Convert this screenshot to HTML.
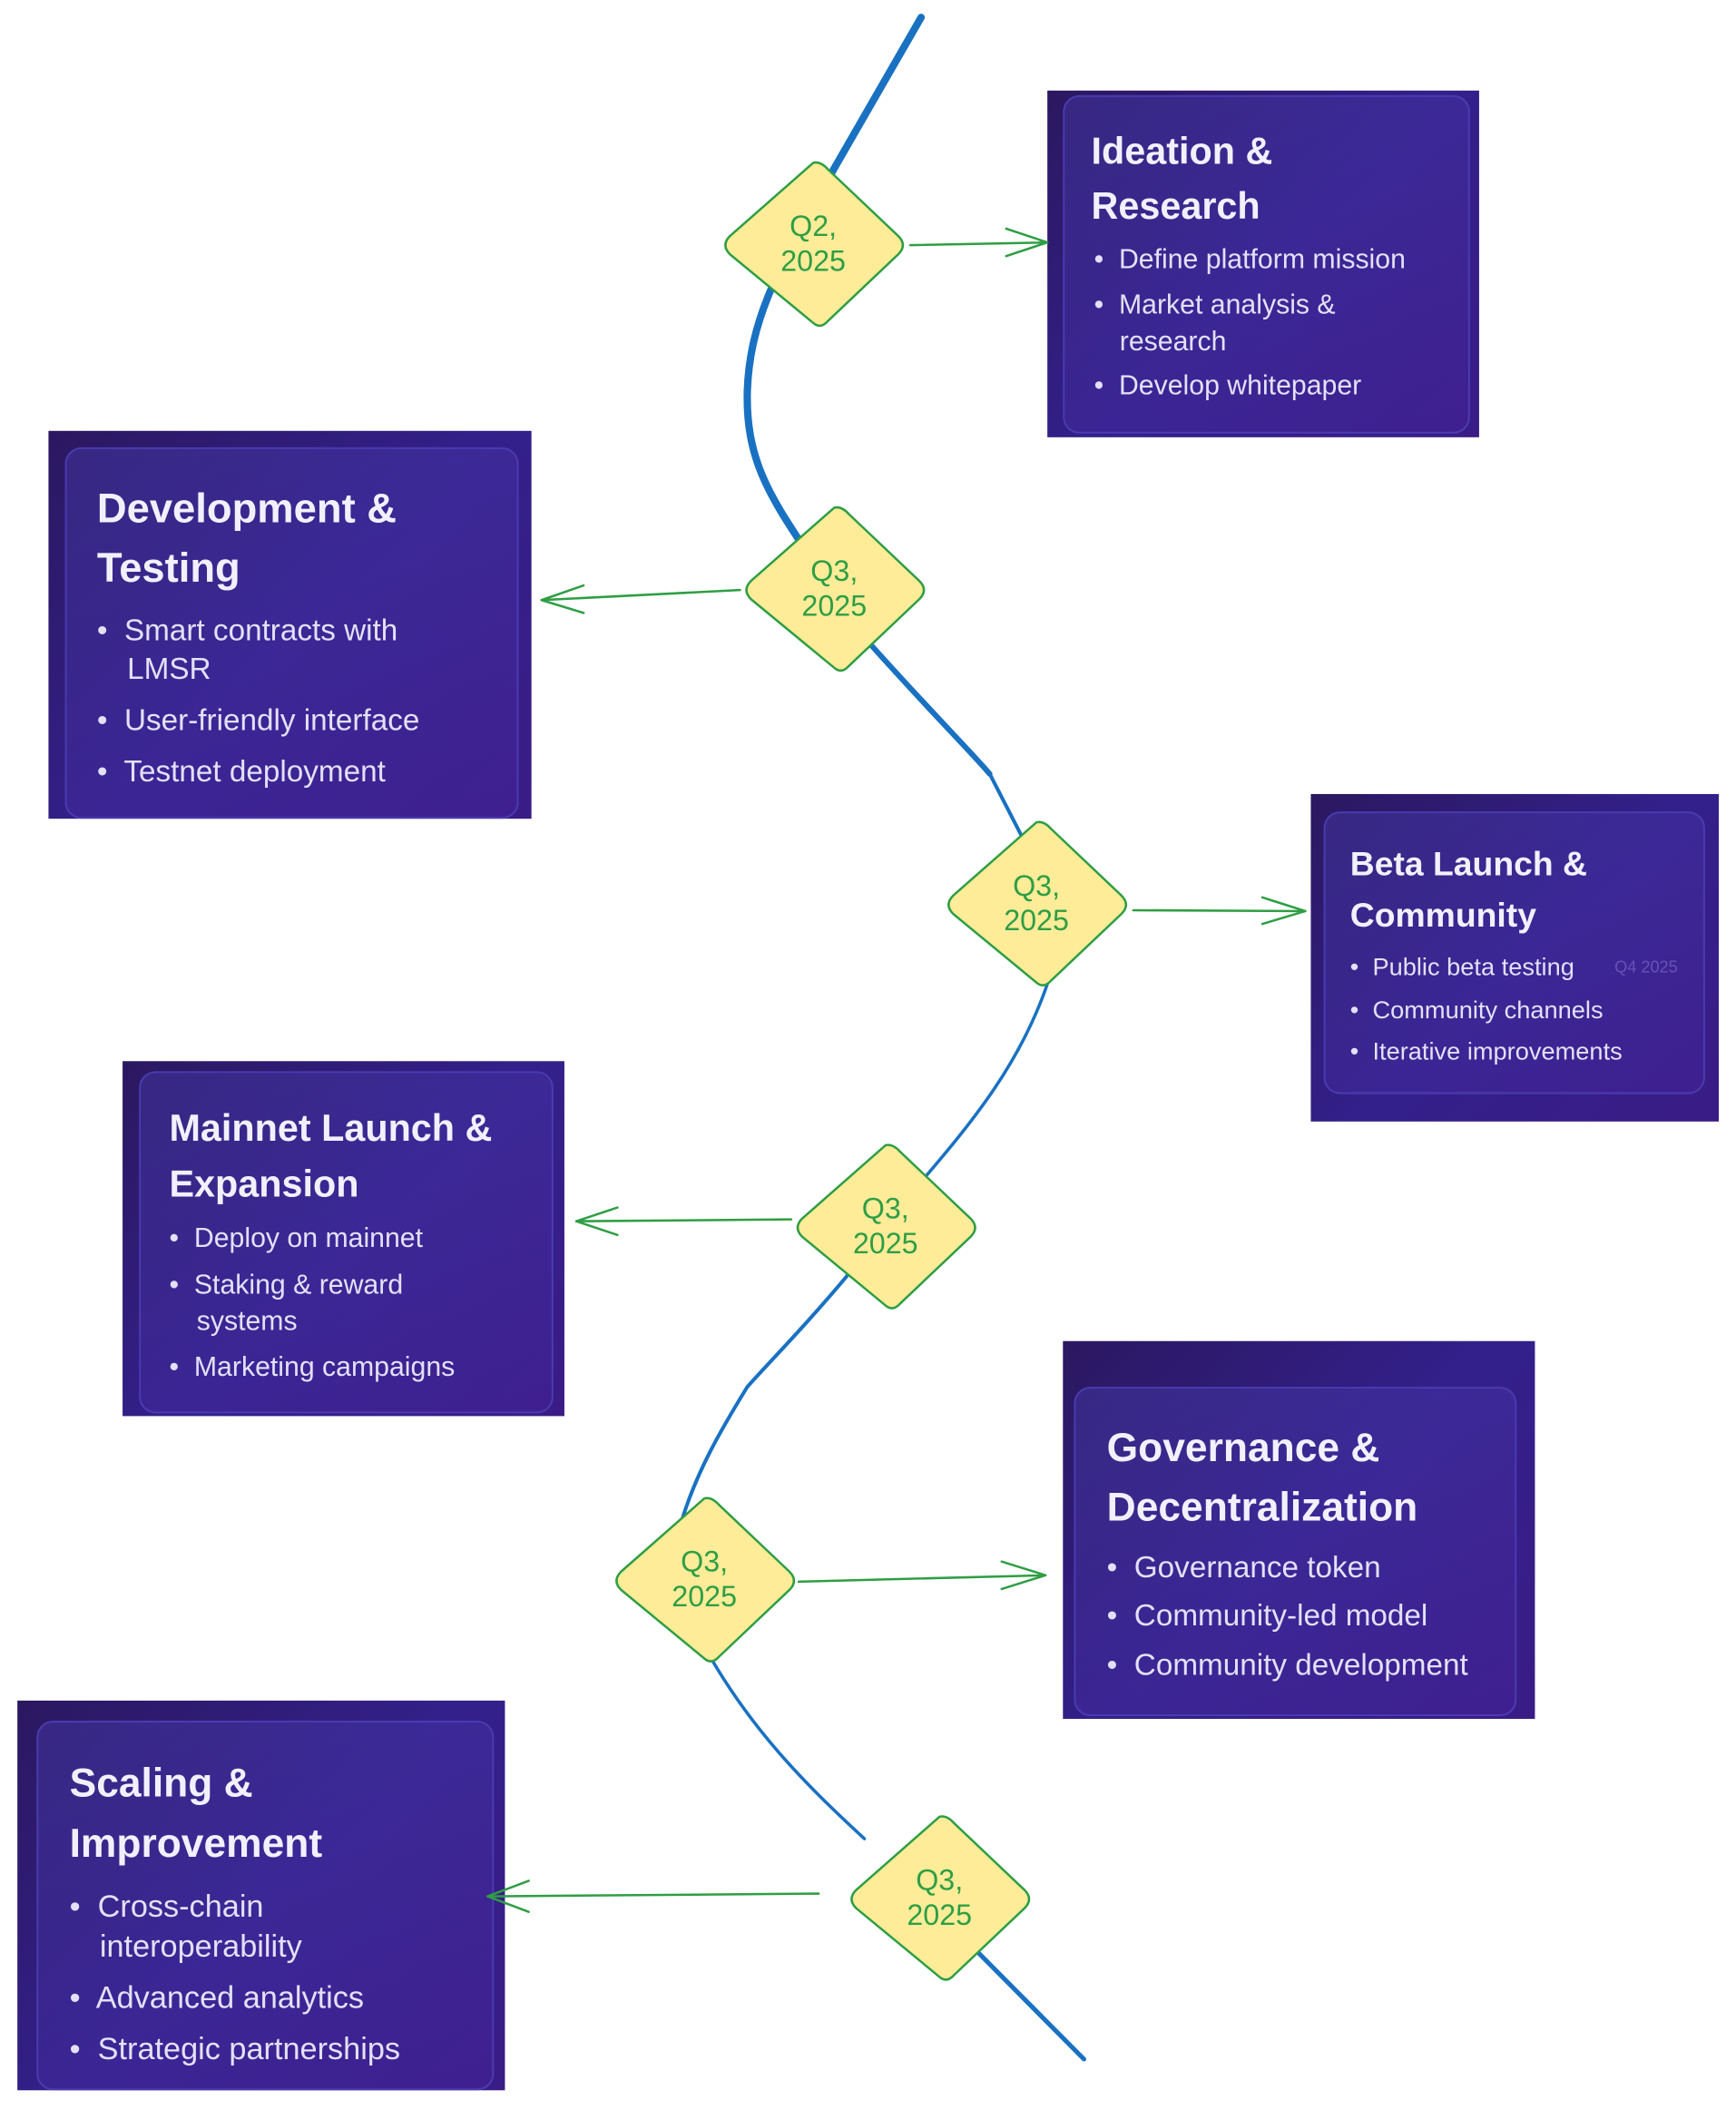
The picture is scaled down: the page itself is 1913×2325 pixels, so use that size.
<!DOCTYPE html>
<html><head><meta charset="utf-8"><style>
html,body{margin:0;padding:0;background:#fff;width:1913px;height:2325px;overflow:hidden;position:relative;font-family:"Liberation Sans",sans-serif}
#w{position:absolute;left:0;top:0;width:1913px;height:2325px;transform:scale(1.008);transform-origin:0 0}
.card{position:absolute;background:linear-gradient(135deg,#2b1860 0%,#33208a 50%,#3a1c86 100%)}
.inner{position:absolute;border:2px solid #4a3bb0;border-radius:18px;background:linear-gradient(160deg,rgba(70,60,170,.45),rgba(80,40,170,.25));box-sizing:border-box}
.t{position:absolute;color:#f2f0ff;white-space:nowrap;font-weight:bold}
.b{position:absolute;color:#e3e0fa;white-space:nowrap}
svg{position:absolute;left:0;top:0}
</style></head><body><div id="w">

<div class="card" style="left:1145px;top:99px;width:472px;height:379px"><div class="inner" style="left:17px;top:5px;width:445px;height:370px"></div></div>
<div class="card" style="left:53px;top:471px;width:528px;height:424px"><div class="inner" style="left:18px;top:18px;width:496px;height:406px"></div></div>
<div class="card" style="left:1433px;top:868px;width:446px;height:358px"><div class="inner" style="left:14px;top:19px;width:417px;height:309px"></div></div>
<div class="card" style="left:134px;top:1160px;width:483px;height:388px"><div class="inner" style="left:18px;top:11px;width:453px;height:374px"></div></div>
<div class="card" style="left:1162px;top:1466px;width:516px;height:413px"><div class="inner" style="left:12px;top:50px;width:484px;height:360px"></div></div>
<div class="card" style="left:19px;top:1859px;width:533px;height:426px"><div class="inner" style="left:21px;top:22px;width:500px;height:404px"></div></div>

<div class="t" style="left:1193px;top:140px;font-size:41px;line-height:50px">Ideation &amp;</div>
<div class="t" style="left:1193px;top:200px;font-size:41px;line-height:50px">Research</div>
<div class="b" style="left:1196px;top:266px;font-size:30px;line-height:36px">•&nbsp; Define platform mission</div>
<div class="b" style="left:1196px;top:316px;font-size:30px;line-height:36px">•&nbsp; Market analysis &amp;</div>
<div class="b" style="left:1224px;top:356px;font-size:30px;line-height:36px">research</div>
<div class="b" style="left:1196px;top:404px;font-size:30px;line-height:36px">•&nbsp; Develop whitepaper</div>

<div class="t" style="left:106px;top:530px;font-size:45px;line-height:52px">Development &amp;</div>
<div class="t" style="left:106px;top:595px;font-size:45px;line-height:52px">Testing</div>
<div class="b" style="left:106px;top:670px;font-size:33px;line-height:38px">•&nbsp; Smart contracts with</div>
<div class="b" style="left:139px;top:712px;font-size:33px;line-height:38px">LMSR</div>
<div class="b" style="left:106px;top:768px;font-size:33px;line-height:38px">•&nbsp; User-friendly interface</div>
<div class="b" style="left:106px;top:824px;font-size:33px;line-height:38px">•&nbsp; Testnet deployment</div>

<div class="t" style="left:1476px;top:922px;font-size:37px;line-height:46px">Beta Launch &amp;</div>
<div class="t" style="left:1476px;top:978px;font-size:37px;line-height:46px">Community</div>
<div class="b" style="left:1476px;top:1041px;font-size:27px;line-height:32px">•&nbsp; Public beta testing</div>
<div class="b" style="left:1476px;top:1088px;font-size:27px;line-height:32px">•&nbsp; Community channels</div>
<div class="b" style="left:1476px;top:1133px;font-size:27px;line-height:32px">•&nbsp; Iterative improvements</div>
<div class="b" style="left:1765px;top:1046px;font-size:18px;line-height:22px;color:rgba(200,190,255,.3)">Q4 2025</div>

<div class="t" style="left:185px;top:1209px;font-size:41px;line-height:48px">Mainnet Launch &amp;</div>
<div class="t" style="left:185px;top:1270px;font-size:41px;line-height:48px">Expansion</div>
<div class="b" style="left:185px;top:1336px;font-size:30px;line-height:36px">•&nbsp; Deploy on mainnet</div>
<div class="b" style="left:185px;top:1387px;font-size:30px;line-height:36px">•&nbsp; Staking &amp; reward</div>
<div class="b" style="left:215px;top:1427px;font-size:30px;line-height:36px">systems</div>
<div class="b" style="left:185px;top:1477px;font-size:30px;line-height:36px">•&nbsp; Marketing campaigns</div>

<div class="t" style="left:1210px;top:1557px;font-size:44px;line-height:52px">Governance &amp;</div>
<div class="t" style="left:1210px;top:1622px;font-size:44px;line-height:52px">Decentralization</div>
<div class="b" style="left:1210px;top:1694px;font-size:33px;line-height:38px">•&nbsp; Governance token</div>
<div class="b" style="left:1210px;top:1747px;font-size:33px;line-height:38px">•&nbsp; Community-led model</div>
<div class="b" style="left:1210px;top:1801px;font-size:33px;line-height:38px">•&nbsp; Community development</div>

<div class="t" style="left:76px;top:1924px;font-size:44px;line-height:52px">Scaling &amp;</div>
<div class="t" style="left:76px;top:1990px;font-size:44px;line-height:52px">Improvement</div>
<div class="b" style="left:76px;top:2065px;font-size:34px;line-height:38px">•&nbsp; Cross-chain</div>
<div class="b" style="left:109px;top:2109px;font-size:34px;line-height:38px">interoperability</div>
<div class="b" style="left:76px;top:2165px;font-size:34px;line-height:38px">•&nbsp; Advanced analytics</div>
<div class="b" style="left:76px;top:2221px;font-size:34px;line-height:38px">•&nbsp; Strategic partnerships</div>

<svg width="1913" height="2325" viewBox="0 0 1913 2325">
<g fill="none" stroke="#1971c2" stroke-linecap="round">
<path d="M1007 19 L912 184 C860 280 820 340 817 427 C815 500 840 540 880 600" stroke-width="8"/>
<path d="M930 680 C1000 760 1060 820 1082 846" stroke-width="6"/>
<path d="M1082 846 L1120 920" stroke-width="4"/>
<path d="M1150 1060 C1120 1160 1060 1230 1000 1300" stroke-width="3.5"/>
<path d="M930 1390 C880 1450 840 1490 817 1516 C790 1560 760 1610 743 1670" stroke-width="4"/>
<path d="M770 1800 C820 1890 880 1950 945 2010" stroke-width="3.5"/>
<path d="M1060 2125 L1185 2251" stroke-width="5"/>
</g>
<g fill="none" stroke="#2f9e44" stroke-width="2.5" stroke-linecap="round">
<path d="M995 268 L1145 265 M1145 265 L1100 250 M1145 265 L1100 280"/>
<path d="M809 645 L592 656 M592 656 L638 640 M592 656 L638 670"/>
<path d="M1239 995 L1427 996 M1427 996 L1380 981 M1427 996 L1380 1010"/>
<path d="M865 1333 L630 1335 M630 1335 L675 1320 M630 1335 L675 1350"/>
<path d="M873 1729 L1143 1722 M1143 1722 L1095 1707 M1143 1722 L1095 1737"/>
<path d="M895 2070 L533 2073 M533 2073 L578 2056 M533 2073 L578 2090"/>
</g>
<g fill="#ffec99" stroke="#2f9e44" stroke-width="2.5" stroke-linejoin="round">
<path d="M889 178 Q897 176 905 185 L982 258 Q992 268 982 278 L905 351 Q897 360 889 353 L798 278 Q788 268 798 258 Z"/>
<path d="M912 555 Q920 553 928 562 L1005 635 Q1015 645 1005 655 L928 728 Q920 737 912 730 L821 655 Q811 645 821 635 Z"/>
<path d="M1133 899 Q1141 897 1149 906 L1226 979 Q1236 989 1226 999 L1149 1072 Q1141 1081 1133 1074 L1042 999 Q1032 989 1042 979 Z"/>
<path d="M968 1252 Q976 1250 984 1259 L1061 1332 Q1071 1342 1061 1352 L984 1425 Q976 1434 968 1427 L877 1352 Q867 1342 877 1332 Z"/>
<path d="M770 1638 Q778 1636 786 1645 L863 1718 Q873 1728 863 1738 L786 1811 Q778 1820 770 1813 L679 1738 Q669 1728 679 1718 Z"/>
<path d="M1027 1986 Q1035 1984 1043 1993 L1120 2066 Q1130 2076 1120 2086 L1043 2159 Q1035 2168 1027 2161 L936 2086 Q926 2076 936 2066 Z"/>
</g>
<g fill="#2f9e44" font-family="Liberation Sans, sans-serif" font-size="32" text-anchor="middle">
<text x="889" y="258">Q2,</text><text x="889" y="296">2025</text>
<text x="912" y="635">Q3,</text><text x="912" y="673">2025</text>
<text x="1133" y="979">Q3,</text><text x="1133" y="1017">2025</text>
<text x="968" y="1332">Q3,</text><text x="968" y="1370">2025</text>
<text x="770" y="1718">Q3,</text><text x="770" y="1756">2025</text>
<text x="1027" y="2066">Q3,</text><text x="1027" y="2104">2025</text>
</g>
</svg>
</div></body></html>
